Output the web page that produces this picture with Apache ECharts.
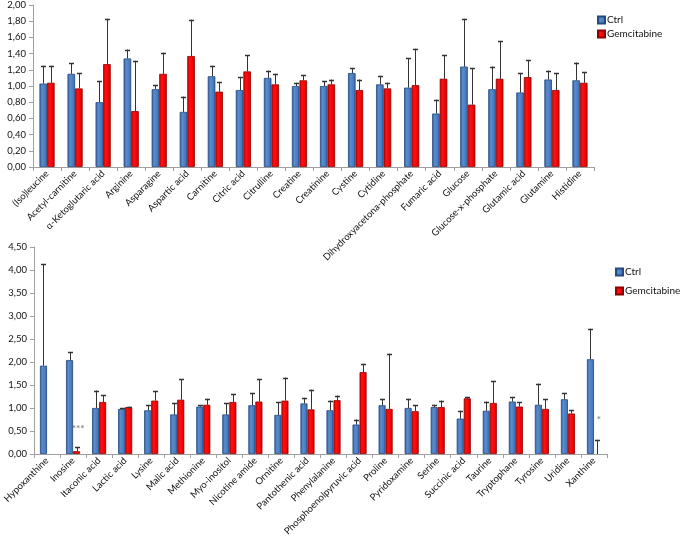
<!DOCTYPE html>
<html>
<head>
<meta charset="utf-8">
<script src="https://cdn.jsdelivr.net/npm/echarts@6/dist/echarts.min.js"></script>
<style>
html,body{margin:0;padding:0;background:#fff;}
#chart{width:685px;height:545px;}
</style>
</head>
<body>
<div id="chart"></div>
<script>
// ---------- DATA ----------
const topCats = ['(Iso)leucine','Acetyl-carnitine','α-Ketoglutaric acid','Arginine','Asparagine','Aspartic acid','Carnitine','Citric acid','Citrulline','Creatine','Creatinine','Cystine','Cytidine','Dihydroxyacetona-phosphate','Fumaric acid','Glucose','Glucose-x-phosphate','Glutamic acid','Glutamine','Histidine'];
const topCtrl    = [1.03,1.15,0.80,1.34,0.96,0.68,1.12,0.95,1.10,1.00,1.00,1.16,1.02,0.98,0.66,1.24,0.96,0.92,1.08,1.07];
const topCtrlErr = [0.22,0.13,0.26,0.11,0.05,0.19,0.13,0.16,0.09,0.04,0.06,0.06,0.10,0.36,0.17,0.59,0.28,0.24,0.11,0.22];
const topGem     = [1.04,0.97,1.27,0.69,1.15,1.37,0.93,1.18,1.02,1.07,1.02,0.95,0.97,1.01,1.09,0.77,1.09,1.11,0.95,1.04];
const topGemErr  = [0.21,0.19,0.56,0.62,0.26,0.45,0.12,0.20,0.13,0.06,0.06,0.13,0.07,0.45,0.29,0.45,0.46,0.21,0.21,0.13];

const botCats = ['Hypoxanthine','Inosine','Itaconic acid','Lactic acid','Lysine','Malic acid','Methionine','Myo-inositol','Nicotine amide','Ornitine','Pantothenic acid','Phenylalanine','Phosphoenolpyruvic acid','Proline','Pyridoxamine','Serine','Succinic acid','Taurine','Tryptophane','Tyrosine','Uridine','Xanthine'];
const botCtrl    = [1.92,2.04,1.00,0.98,0.95,0.86,1.03,0.86,1.06,0.85,1.10,0.95,0.64,1.06,1.00,1.02,0.77,0.94,1.14,1.07,1.19,2.06];
const botCtrlErr = [2.20,0.17,0.38,0.02,0.11,0.24,0.03,0.24,0.26,0.27,0.12,0.21,0.11,0.14,0.20,0.05,0.17,0.20,0.10,0.46,0.13,0.66];
const botGem     = [null,0.06,1.13,1.02,1.16,1.18,1.07,1.13,1.14,1.16,0.97,1.17,1.78,0.98,0.93,1.02,1.21,1.11,1.03,0.98,0.88,null];
const botGemErr  = [null,0.085,0.15,0.01,0.20,0.45,0.13,0.17,0.48,0.50,0.43,0.10,0.17,1.20,0.13,0.14,0.03,0.47,0.09,0.21,0.07,0.31];

// significance annotations: [category, y-value, text]
const annotations = [['Inosine',0.55,'***'],['Xanthine',0.745,'*']];

const topTicks = {min:0,max:2,interval:0.2};
const botTicks = {min:0,max:4.5,interval:0.5};
const seriesNames = ['Ctrl','Gemcitabine'];

// ---------- STYLE ----------
const FONT = 'Lato';
const BARW = 0.27;
const blueFill = {type:'linear',x:0,y:0,x2:1,y2:0,colorStops:[{offset:0,color:'#2f5f9e'},{offset:0.35,color:'#5a8ccf'},{offset:0.8,color:'#4677bb'},{offset:1,color:'#2a548c'}]};
const redFill  = {type:'linear',x:0,y:0,x2:1,y2:0,colorStops:[{offset:0,color:'#c80000'},{offset:0.35,color:'#ff1010'},{offset:0.8,color:'#f00000'},{offset:1,color:'#a80000'}]};

function fmt(v){return v.toFixed(2).replace('.',',');}

function errSeries(name, gridIdx, vals, errs, sign){
  const data = vals.map((v,i)=>[i, v==null?0:v, errs[i]]);
  return {
    type:'custom', name:name, xAxisIndex:gridIdx, yAxisIndex:gridIdx, z:5, silent:true,
    data:data,
    renderItem:function(params, api){
      const e = api.value(2);
      if (e==null || isNaN(e)) return null;
      const x = api.value(0), v = api.value(1);
      const p0 = api.coord([x, v]);
      const p1 = api.coord([x, v+e]);
      const cw = api.size([1,0])[0];
      const bw = cw*BARW;
      const cx = Math.round(p0[0] + sign*bw/2) + 0.5;
      const st = {stroke:'#333', lineWidth:1};
      return {type:'group', children:[
        {type:'line', shape:{x1:cx,y1:p0[1],x2:cx,y2:p1[1]}, style:st},
        {type:'line', shape:{x1:cx-2.5,y1:Math.round(p1[1])+0.5,x2:cx+2.5,y2:Math.round(p1[1])+0.5}, style:{stroke:'#333',lineWidth:1.5}}
      ]};
    }
  };
}

function barSeries(name, gridIdx, vals, fill, border){
  return {type:'bar', name:name, xAxisIndex:gridIdx, yAxisIndex:gridIdx,
    data:vals, barWidth:(BARW*100)+'%', barGap:'0%',
    itemStyle:{color:fill, borderColor:border, borderWidth:0.8},
    emphasis:{disabled:true}};
}

function xAxisCfg(cats, gridIdx){
  return {type:'category', gridIndex:gridIdx, data:cats,
    axisLine:{lineStyle:{color:'#a0a0a0',width:1}},
    axisTick:{show:true, interval:0, length:4, lineStyle:{color:'#a0a0a0'}},
    axisLabel:{interval:0, rotate:45, margin:5, fontFamily:FONT, fontSize:9.5, color:'#111'},
    splitLine:{show:false}};
}
function yAxisCfg(t, gridIdx){
  return {type:'value', gridIndex:gridIdx, min:t.min, max:t.max, interval:t.interval,
    axisLine:{show:true, lineStyle:{color:'#a0a0a0'}},
    axisTick:{show:true, length:4, lineStyle:{color:'#a0a0a0'}},
    axisLabel:{formatter:fmt, fontFamily:FONT, fontSize:9.5, color:'#111', margin:7},
    splitLine:{show:false}};
}

const annData = annotations.map(a=>[botCats.indexOf(a[0]), a[1], a[2]]);

const option = {
  animation:false,
  backgroundColor:'#fff',
  textStyle:{fontFamily:FONT},
  grid:[
    {left:33, top:4, width:561, height:163, containLabel:false},
    {left:32, top:247, width:575, height:207, containLabel:false}
  ],
  legend:[
    {data:seriesNames, left:592, top:10, orient:'horizontal', itemWidth:7, itemHeight:7, itemGap:4,
     icon:'rect', textStyle:{fontFamily:FONT, fontSize:10, color:'#111', padding:[0,0,0,-3]}},
    {data:seriesNames, left:610, top:262, orient:'vertical', itemWidth:7, itemHeight:7, itemGap:9,
     icon:'rect', textStyle:{fontFamily:FONT, fontSize:10, color:'#111', padding:[0,0,0,-3]}}
  ],
  color:['#3f70b4','#ee0000'],
  xAxis:[xAxisCfg(topCats,0), xAxisCfg(botCats,1)],
  yAxis:[yAxisCfg(topTicks,0), yAxisCfg(botTicks,1)],
  series:[
    barSeries('Ctrl',0,topCtrl,blueFill,'#234a7d'),
    barSeries('Gemcitabine',0,topGem,redFill,'#8f0000'),
    errSeries('Ctrl',0,topCtrl,topCtrlErr,-1),
    errSeries('Gemcitabine',0,topGem,topGemErr,1),
    barSeries('Ctrl',1,botCtrl,blueFill,'#234a7d'),
    barSeries('Gemcitabine',1,botGem,redFill,'#8f0000'),
    errSeries('Ctrl',1,botCtrl,botCtrlErr,-1),
    errSeries('Gemcitabine',1,botGem,botGemErr,1),
    {type:'scatter', xAxisIndex:1, yAxisIndex:1, symbolSize:0, silent:true, z:6,
     data:annData.map(a=>({value:[a[0],a[1]], label:{formatter:a[2]}})),
     label:{show:true, position:'inside', offset:[5,0], fontFamily:FONT, fontSize:10, fontWeight:'bold', color:'#666'}}
  ]
};

const chart = echarts.init(document.getElementById('chart'), null, {renderer:'canvas'});
chart.setOption(option);
</script>
</body>
</html>
